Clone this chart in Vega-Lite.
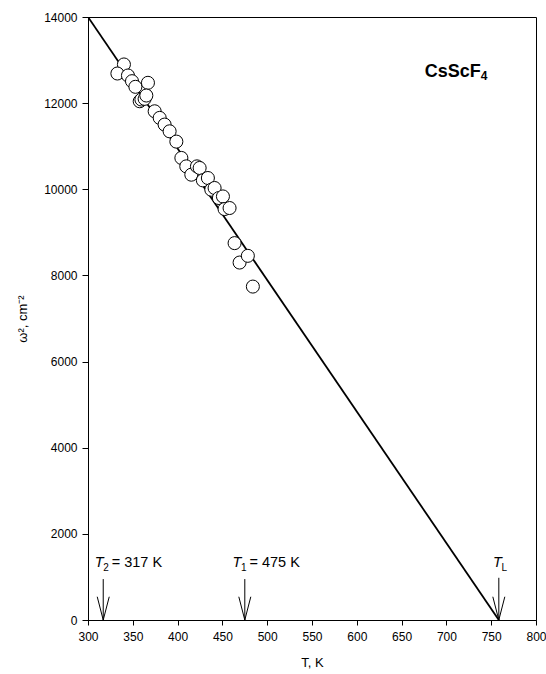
{
  "$schema": "https://vega.github.io/schema/vega-lite/v6.json",
  "autosize": "none",
  "width": 448,
  "height": 603,
  "padding": {"left": 88, "top": 17, "right": 10, "bottom": 54},
  "background": "white",
  "config": {
    "font": "Liberation Sans",
    "view": {"stroke": "#000", "strokeWidth": 1},
    "axis": {
      "domainColor": "#000", "tickColor": "#000", "labelColor": "#000", "titleColor": "#000",
      "labelFont": "Liberation Sans", "titleFont": "Liberation Sans",
      "labelFontSize": 12, "titleFontSize": 13, "titleFontWeight": "normal", "grid": false
    }
  },
  "datasets": {
    "fit": [{"T": 300, "w": 14000}, {"T": 758.5, "w": 0}],
    "points": [
      {"T": 340.1, "w": 12898}, {"T": 332.8, "w": 12688}, {"T": 344.6, "w": 12642},
      {"T": 349.1, "w": 12510}, {"T": 352.9, "w": 12379}, {"T": 366.9, "w": 12472},
      {"T": 357.7, "w": 12044}, {"T": 359.6, "w": 12084}, {"T": 363.2, "w": 12100},
      {"T": 365.1, "w": 12177}, {"T": 374.4, "w": 11811}, {"T": 380.0, "w": 11658},
      {"T": 385.5, "w": 11502}, {"T": 391.1, "w": 11346}, {"T": 398.6, "w": 11107},
      {"T": 404.2, "w": 10728}, {"T": 409.7, "w": 10532}, {"T": 415.3, "w": 10339},
      {"T": 421.6, "w": 10532}, {"T": 424.6, "w": 10495}, {"T": 428.2, "w": 10207},
      {"T": 433.8, "w": 10262}, {"T": 437.6, "w": 9990}, {"T": 441.3, "w": 10030},
      {"T": 446.1, "w": 9797}, {"T": 450.6, "w": 9834}, {"T": 452.4, "w": 9541},
      {"T": 458.0, "w": 9565}, {"T": 463.6, "w": 8750}, {"T": 469.2, "w": 8299},
      {"T": 478.4, "w": 8455}, {"T": 484.0, "w": 7741}
    ],
    "arrows": [
      {"arrow": "T2", "T": 317, "top": 950, "tip": 0},
      {"arrow": "T1", "T": 475, "top": 950, "tip": 0},
      {"arrow": "TL", "T": 758.5, "top": 980, "tip": 0}
    ],
    "heads": [
      {"arrow": "T2", "i": 1, "T": 310.3, "w": 540}, {"arrow": "T2", "i": 2, "T": 317, "w": 0}, {"arrow": "T2", "i": 3, "T": 323.7, "w": 540},
      {"arrow": "T1", "i": 1, "T": 468.3, "w": 540}, {"arrow": "T1", "i": 2, "T": 475, "w": 0}, {"arrow": "T1", "i": 3, "T": 481.7, "w": 540},
      {"arrow": "TL", "i": 1, "T": 751.8, "w": 540}, {"arrow": "TL", "i": 2, "T": 758.5, "w": 0}, {"arrow": "TL", "i": 3, "T": 765.2, "w": 540}
    ],
    "labels": [
      {"T": 307.5, "w": 1240, "sub": "2", "rest": "= 317 K"},
      {"T": 461.2, "w": 1240, "sub": "1", "rest": "= 475 K"},
      {"T": 752.0, "w": 1240, "sub": "L", "rest": ""}
    ],
    "compound": [{"T": 675.8, "w": 12600, "name": "CsScF", "sub": "4"}]
  },
  "encoding": {
    "x": {"field": "T", "type": "quantitative", "scale": {"domain": [300, 800], "nice": false, "zero": false},
      "axis": {"title": "T, K", "values": [300, 350, 400, 450, 500, 550, 600, 650, 700, 750, 800],
        "tickSize": 5, "labelPadding": 6, "titlePadding": 14, "labelFlush": false}},
    "y": {"field": "w", "type": "quantitative", "scale": {"domain": [0, 14000], "nice": false},
      "axis": {"title": "ω², cm⁻²", "values": [0, 2000, 4000, 6000, 8000, 10000, 12000, 14000], "format": "d",
        "tickSize": 6, "labelPadding": 5, "titlePadding": 14, "labelFlush": false}}
  },
  "layer": [
    {"data": {"name": "fit"}, "mark": {"type": "line", "color": "#000", "strokeWidth": 1.8, "clip": true}, "encoding": {}},
    {"data": {"name": "arrows"}, "mark": {"type": "rule", "color": "#000", "strokeWidth": 1},
      "encoding": {"y": {"field": "top", "type": "quantitative"}, "y2": {"field": "tip"}}},
    {"data": {"name": "heads"}, "mark": {"type": "line", "color": "#000", "strokeWidth": 1},
      "encoding": {"detail": {"field": "arrow"}, "order": {"field": "i", "type": "quantitative"}}},
    {"data": {"name": "points"}, "mark": {"type": "point", "shape": "circle", "filled": true, "fill": "white", "stroke": "#000", "strokeWidth": 1, "size": 170, "opacity": 1}, "encoding": {}},
    {"data": {"name": "labels"}, "mark": {"type": "text", "text": "T", "fontStyle": "italic", "fontSize": 14.5, "align": "left", "baseline": "alphabetic", "color": "#000"}, "encoding": {}},
    {"data": {"name": "labels"}, "mark": {"type": "text", "fontSize": 10, "align": "left", "baseline": "alphabetic", "dx": 8.5, "dy": 4, "color": "#000"},
      "encoding": {"text": {"field": "sub"}}},
    {"data": {"name": "labels"}, "mark": {"type": "text", "fontSize": 14.5, "align": "left", "baseline": "alphabetic", "dx": 17, "color": "#000"},
      "encoding": {"text": {"field": "rest"}}},
    {"data": {"name": "compound"}, "mark": {"type": "text", "fontSize": 18, "fontWeight": "bold", "align": "left", "baseline": "alphabetic", "color": "#000"},
      "encoding": {"text": {"field": "name"}}},
    {"data": {"name": "compound"}, "mark": {"type": "text", "fontSize": 12, "fontWeight": "bold", "align": "left", "baseline": "alphabetic", "dx": 56, "dy": 3, "color": "#000"},
      "encoding": {"text": {"field": "sub"}}}
  ]
}
